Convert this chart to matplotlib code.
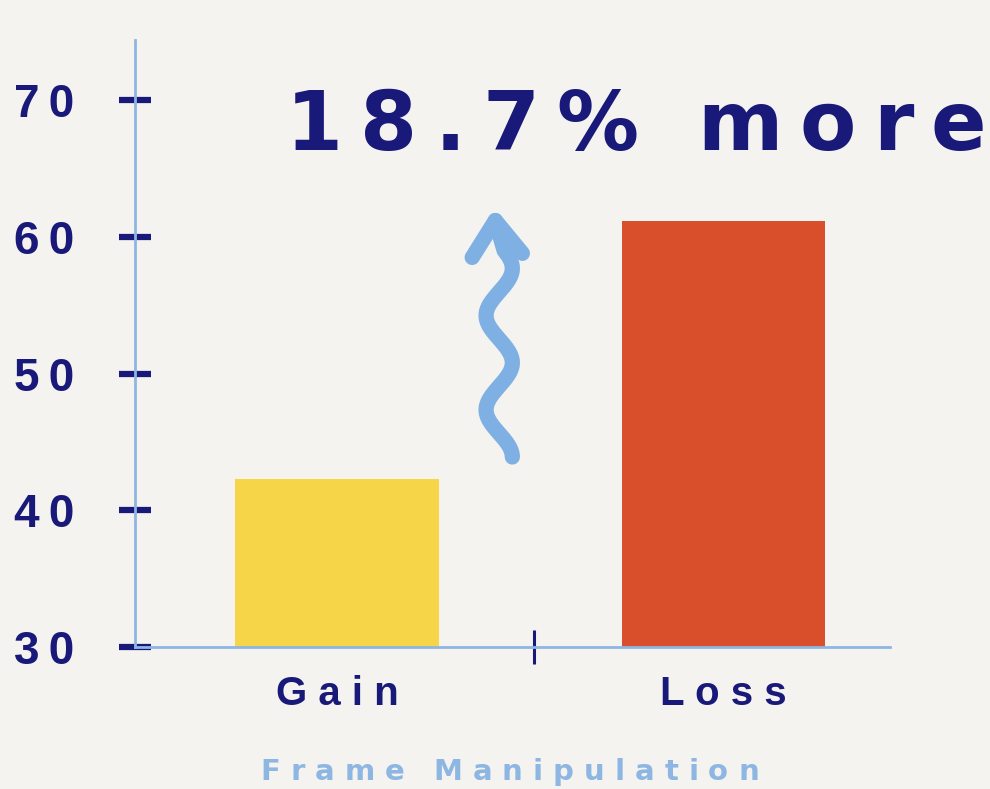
import matplotlib.pyplot as plt
import numpy as np

# data
categories = ["Gain", "Loss"]
values = [42.3, 61.2]
yticks = [30, 40, 50, 60, 70]
headline = "18.7% more"
caption = "Frame Manipulation"

navy = "#19197a"
light = "#8db6e2"
arrow_c = "#7fb0e3"
bar_colors = ["#f7d548", "#d94e2b"]
bg = "#f5f3ef"

fig = plt.figure(figsize=(9.9, 7.89), dpi=100, facecolor=bg)
ax = fig.add_axes([0.1364, 0.180, 0.763, 0.769])
ax.set_facecolor(bg)

x = np.arange(len(categories))
ax.bar(x, values, width=0.526, bottom=0, color=bar_colors, zorder=2)
ax.set_xlim(-0.523, 1.433)
ax.set_ylim(30, 74.39)

for s in ["top", "right"]:
    ax.spines[s].set_visible(False)
for s in ["left", "bottom"]:
    ax.spines[s].set_color(light)
    ax.spines[s].set_linewidth(2)

spaced = lambda s, sep: sep.join(list(s))

ax.set_yticks(yticks)
ax.set_yticklabels([spaced(str(v), "\u2009") for v in yticks],
                   family=["Liberation Sans", "DejaVu Sans"], fontsize=33,
                   fontweight="bold", color=navy)
ax.tick_params(axis="y", direction="inout", length=23, width=4.5,
               color=navy, pad=32)

ax.set_xticks(x)
ax.set_xticklabels([spaced(c, " ") for c in categories],
                   family=["Liberation Sans", "DejaVu Sans"], fontsize=29,
                   fontweight="bold", color=navy)
ax.tick_params(axis="x", which="major", length=0, pad=20)
ax.set_xticks([0.51], minor=True)
ax.tick_params(axis="x", which="minor", direction="inout", length=24,
               width=2.2, color=navy)

# wavy arrow from the gain level up to the loss level
xc, amp = 0.42, 0.034
ys = np.linspace(values[0] + 1.6, values[1] - 2.2, 200)
xs = xc + amp * np.cos(2 * np.pi * (ys - ys[0]) / 6.9)
xs = np.append(xs, xc - 0.01)
ys = np.append(ys, values[1])
ax.plot(xs, ys, color=arrow_c, lw=11, solid_capstyle="round",
        solid_joinstyle="round", clip_on=False, zorder=3)
tip = (xc - 0.01, values[1])
ax.plot([tip[0] - 0.06, tip[0], tip[0] + 0.07],
        [tip[1] - 2.7, tip[1], tip[1] - 2.4], color=arrow_c, lw=11,
        solid_capstyle="round", solid_joinstyle="round", clip_on=False, zorder=3)


def tracked(xf, yf, s, size, color, track, family="DejaVu Sans"):
    r = fig.canvas.get_renderer()
    W = fig.bbox.width
    px = size * fig.dpi / 72
    widths = []
    for ch in s:
        if ch == " ":
            widths.append(0.3 * px)
        else:
            t = fig.text(0, 0, ch, fontsize=size, fontweight="bold", family=family)
            widths.append(t.get_window_extent(r).width)
            t.remove()
    total = sum(widths) + track * (len(s) - 1)
    x0 = xf * W - total / 2
    for ch, w in zip(s, widths):
        if ch != " ":
            fig.text(x0 / W, yf, ch, fontsize=size, fontweight="bold",
                     family=family, color=color, ha="left", va="baseline")
        x0 += w + track


tracked(0.6424, 0.81, headline, 59, navy, 17)
tracked(0.515, 0.012, caption, 21, light, 10)

fig.savefig("out.png", dpi=100, facecolor=bg)
